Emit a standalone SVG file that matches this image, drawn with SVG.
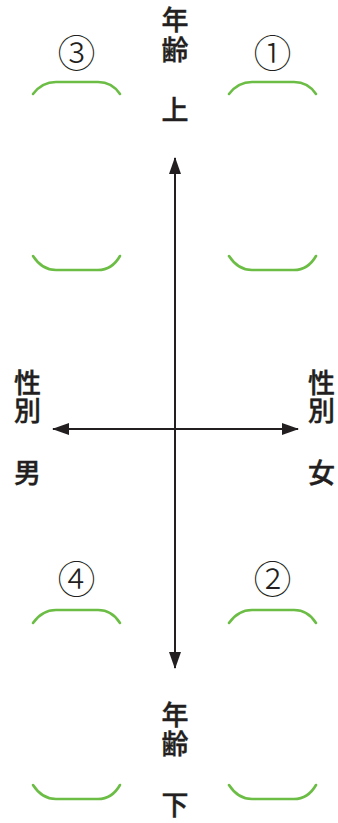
<svg xmlns="http://www.w3.org/2000/svg" width="338" height="823" viewBox="0 0 338 823">
<style>
.lbl{font-family:"Noto Sans CJK JP","Noto Sans CJK SC",sans-serif;font-size:27px;font-weight:500;fill:#231f20;text-anchor:middle;stroke:#231f20;stroke-width:0.4}
.num{font-family:"DejaVu Serif","Noto Sans CJK JP",serif;font-size:38px;font-weight:300;fill:#231f20;text-anchor:middle}
.br{fill:none;stroke:#6cbd45;stroke-width:2.6;stroke-linecap:round}
.ax{stroke:#231f20;stroke-width:2;fill:none}
</style>
<defs>
<marker id="ah" viewBox="0 0 17 12" refX="16" refY="6" markerWidth="17" markerHeight="12" markerUnits="userSpaceOnUse" orient="auto">
<path d="M0,0 L17,6 L0,12 Z" fill="#231f20"/>
</marker>
</defs>
<rect width="338" height="823" fill="#fff"/>
<g id="connectors">
<line class="ax" x1="175" y1="429" x2="175" y2="158" marker-end="url(#ah)"/>
<line class="ax" x1="175" y1="429" x2="175" y2="668" marker-end="url(#ah)"/>
<line class="ax" x1="175" y1="429" x2="53" y2="429" marker-end="url(#ah)"/>
<line class="ax" x1="175" y1="429" x2="298" y2="429" marker-end="url(#ah)"/>
</g>
<g id="label-top">
<text class="lbl" x="175" y="30">年</text>
<text class="lbl" x="175" y="60">齢</text>
<text class="lbl" x="175" y="120">上</text>
</g>
<g id="label-bottom">
<text class="lbl" x="175" y="725">年</text>
<text class="lbl" x="175" y="754">齢</text>
<text class="lbl" x="175" y="815">下</text>
</g>
<g id="label-left">
<text class="lbl" x="27.5" y="393">性</text>
<text class="lbl" x="27.5" y="421">別</text>
<text class="lbl" x="27.5" y="483">男</text>
</g>
<g id="label-right">
<text class="lbl" x="321.5" y="393">性</text>
<text class="lbl" x="321.5" y="421">別</text>
<text class="lbl" x="321.5" y="483">女</text>
</g>
<g id="q3">
<text class="num" x="76.5" y="67">③</text>
<path class="br" d="M33,94 Q42,82 56,82 L98,82 Q112,82 120,94"/>
<path class="br" d="M33,256 Q42,270 56,270 L98,270 Q112,270 120,256"/>
</g>
<g id="q1">
<text class="num" x="272.5" y="67">①</text>
<path class="br" d="M229,94 Q238,82 252,82 L294,82 Q308,82 316,94"/>
<path class="br" d="M229,256 Q238,270 252,270 L294,270 Q308,270 316,256"/>
</g>
<g id="q4">
<text class="num" x="76.5" y="593">④</text>
<path class="br" d="M33,623 Q42,610 56,610 L98,610 Q112,610 120,623"/>
<path class="br" d="M33,785 Q42,799 56,799 L98,799 Q112,799 120,785"/>
</g>
<g id="q2">
<text class="num" x="272.5" y="593">②</text>
<path class="br" d="M229,623 Q238,610 252,610 L294,610 Q308,610 316,623"/>
<path class="br" d="M229,785 Q238,799 252,799 L294,799 Q308,799 316,785"/>
</g>
</svg>
